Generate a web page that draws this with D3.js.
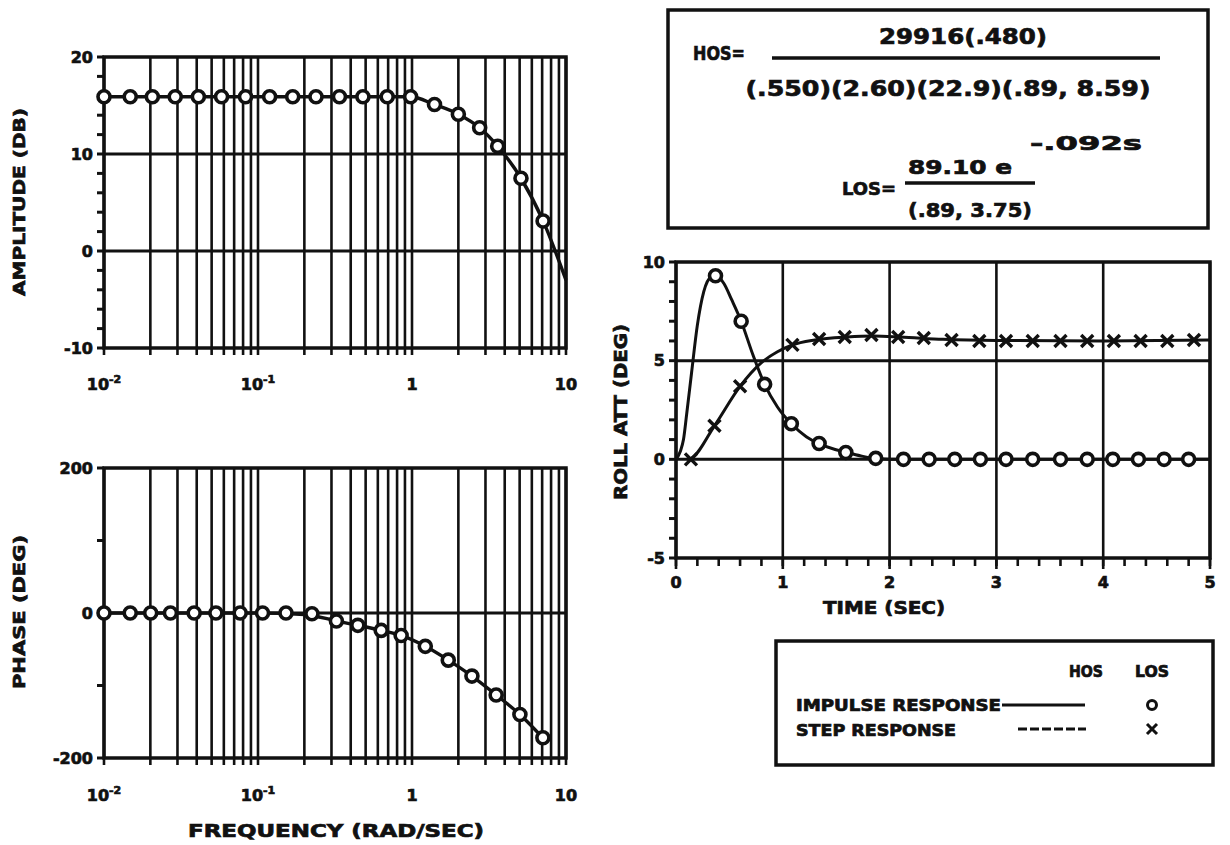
<!DOCTYPE html>
<html><head><meta charset="utf-8">
<script src="https://cdn.jsdelivr.net/npm/d3@7"></script>
<style>
body{margin:0;background:#fff;}
text{font-family:"DejaVu Sans",sans-serif;font-weight:bold;fill:#111;stroke:#111;stroke-width:0.7px;}
</style></head><body>
<svg id="c" width="1230" height="845"></svg>
<script>
// ---------- DATA ----------
// Bode amplitude (dB), LOS points (circles) and HOS line
const ampFreq = [0.01,0.0148,0.0206,0.029,0.041,0.058,0.083,0.119,0.168,0.238,0.338,0.48,0.69,0.98,1.4,2.0,2.75,3.6,5.1,7.1];
const ampLOS  = [15.9,15.9,15.9,15.9,15.9,15.9,15.9,15.9,15.9,15.9,15.9,15.9,15.9,15.9,15.1,14.1,12.7,10.8,7.5,3.1];
const ampHosFreq = [0.01,0.1,0.5,0.98,1.4,2.0,2.75,3.6,5.1,7.1,10];
const ampHos     = [15.9,15.9,15.9,15.9,15.1,14.1,12.7,10.8,7.5,3.1,-3.0];
// Bode phase (deg)
const phFreq = [0.01,0.0148,0.0201,0.027,0.0385,0.0533,0.0766,0.107,0.152,0.224,0.323,0.445,0.631,0.85,1.22,1.72,2.45,3.52,5.02,7.08];
const phLOS  = [0,0,0,0,0,0,0,0,0,-1,-11,-17,-24,-31,-46,-65,-87,-113,-140,-172];
const phHosFreq = [0.01,0.1,0.2,0.323,0.445,0.631,0.85,1.22,1.72,2.45,3.52,5.02,7.2];
const phHos     = [0,0,-2,-11,-17,-24,-31,-46,-65,-87,-113,-140,-174];
// Time responses (deg)
const impT   = [0.37,0.61,0.83,1.08,1.34,1.59,1.87,2.13,2.37,2.61,2.85,3.09,3.34,3.6,3.85,4.09,4.33,4.57,4.8];
const impLOS = [9.3,7.0,3.8,1.8,0.8,0.35,0.05,0,0,0,0,0,0,0,0,0,0,0,0];
const impHosT = [0,0.04,0.07,0.1,0.146,0.2,0.26,0.33,0.37,0.45,0.52,0.61,0.72,0.83,0.95,1.08,1.22,1.34,1.49,1.59,1.75,1.9,2.1,5.0];
const impHos  = [0,0.4,1.0,2.3,4.4,6.8,8.5,9.25,9.3,8.9,8.1,7.0,5.3,3.8,2.65,1.8,1.15,0.8,0.5,0.37,0.15,0.03,0,0];
const stepT   = [0.14,0.36,0.6,1.09,1.34,1.58,1.83,2.08,2.32,2.58,2.84,3.09,3.34,3.6,3.85,4.1,4.35,4.6,4.85];
const stepLOS = [0,1.7,3.7,5.8,6.1,6.2,6.3,6.2,6.15,6.05,6.0,6.0,6.0,6.0,6.0,6.0,6.0,6.0,6.05];
const stepHosT = [0.1,0.14,0.36,0.6,0.8,0.95,1.09,1.3,1.6,1.85,2.1,2.5,3.0,4.0,5.0];
const stepHos  = [0,0.05,1.7,3.7,4.9,5.45,5.8,6.05,6.2,6.25,6.2,6.08,6.02,6.0,6.05];
// Tick labels
const freqTickVals = [0.01,0.1,1,10];
const freqTickBase = ['10','10','1','10'];
const freqTickExp  = ['-2','-1','',''];
const ampTickVals = [20,10,0,-10];
const phTickVals = [200,0,-200];
const timeYTickVals = [10,5,0,-5];
const timeXTickVals = [0,1,2,3,4,5];

// ---------- DRAW ----------
const ink = '#111';
const svg = d3.select('#c');
svg.append('rect').attr('width',1230).attr('height',845).attr('fill','#fff');

const xF = d3.scaleLog().domain([0.01,10]).range([104,566]);
const yA = d3.scaleLinear().domain([-10,20]).range([348,57]);
const yP = d3.scaleLinear().domain([-200,200]).range([758,468]);
const xT = d3.scaleLinear().domain([0,5]).range([676,1210]);
const yT = d3.scaleLinear().domain([-5,10]).range([558,262]);

function hline(g,x1,x2,y,w){g.append('line').attr('x1',x1).attr('x2',x2).attr('y1',y).attr('y2',y).attr('stroke',ink).attr('stroke-width',w);}
function vline(g,x,y1,y2,w){g.append('line').attr('x1',x).attr('x2',x).attr('y1',y1).attr('y2',y2).attr('stroke',ink).attr('stroke-width',w);}

function logPanel(y, gridVals, minorStep, tickVals, labelY){
  const g = svg.append('g');
  const top = y.range()[1], bot = y.range()[0];
  const [x0,x1] = xF.range();
  xF.ticks().forEach(f => vline(g, xF(f), top, bot+7, 2.6));
  gridVals.forEach(v => hline(g, x0, x1, y(v), 3));
  g.append('rect').attr('x',x0).attr('y',top).attr('width',x1-x0).attr('height',bot-top)
    .attr('fill','none').attr('stroke',ink).attr('stroke-width',3.5);
  const [d0,d1] = y.domain();
  d3.range(d0, d1+1e-9, minorStep).forEach(v => hline(g, x0-7, x0, y(v), 3));
  tickVals.forEach(v => g.append('text').attr('x',x0-11).attr('y',y(v)).attr('dy','0.36em')
     .attr('text-anchor','end').attr('font-size',16).text(v<0?'-'+Math.abs(v):v));
  freqTickVals.forEach((f,i) => {
    const t = g.append('text').attr('x',xF(f)).attr('y',labelY).attr('text-anchor','middle').attr('font-size',16);
    t.append('tspan').text(freqTickBase[i]);
    if (freqTickExp[i]) t.append('tspan').attr('dy',-7).attr('font-size',11).text(freqTickExp[i]);
  });
  return g;
}

function circles(g, xs, ys, xsc, ysc){
  g.selectAll(null).data(xs).enter().append('circle')
   .attr('cx',(d)=>xsc(d)).attr('cy',(d,i)=>ysc(ys[i])).attr('r',6)
   .attr('fill','#fff').attr('stroke',ink).attr('stroke-width',3.6);
}
function curve(g, xs, ys, xsc, ysc, w){
  const pts = xs.map((d,i)=>[xsc(d), ysc(ys[i])]);
  g.append('path').attr('d', d3.line().curve(d3.curveMonotoneX)(pts))
   .attr('fill','none').attr('stroke',ink).attr('stroke-width',w);
}

// Amplitude
const gA = logPanel(yA, [10,0], 2, ampTickVals, 390);
curve(gA, ampHosFreq, ampHos, xF, yA, 3.4);
circles(gA, ampFreq, ampLOS, xF, yA);
gA.append('text').attr('transform','translate(25,202) rotate(-90)').attr('text-anchor','middle')
  .attr('font-size',16).attr('textLength',188).attr('lengthAdjust','spacingAndGlyphs').text('AMPLITUDE (DB)');

// Phase
const gP = logPanel(yP, [0], 100, phTickVals, 801);
curve(gP, phHosFreq, phHos, xF, yP, 3.4);
circles(gP, phFreq, phLOS, xF, yP);
gP.append('text').attr('transform','translate(25,612) rotate(-90)').attr('text-anchor','middle')
  .attr('font-size',16).attr('textLength',154).attr('lengthAdjust','spacingAndGlyphs').text('PHASE (DEG)');
gP.append('text').attr('x',336).attr('y',837).attr('text-anchor','middle')
  .attr('font-size',17).attr('textLength',296).attr('lengthAdjust','spacingAndGlyphs').text('FREQUENCY (RAD/SEC)');

// Time panel
const gT = svg.append('g');
{
  const [x0,x1] = xT.range(); const top = yT.range()[1], bot = yT.range()[0];
  timeXTickVals.forEach(t => vline(gT, xT(t), top, bot+11, 2.6));
  d3.range(0,5.0001,0.2).forEach(t => vline(gT, xT(t), bot, bot+8, 2.6));
  [5,0].forEach(v => hline(gT, x0, x1, yT(v), 3));
  gT.append('rect').attr('x',x0).attr('y',top).attr('width',x1-x0).attr('height',bot-top)
    .attr('fill','none').attr('stroke',ink).attr('stroke-width',3.5);
  d3.range(-5,10.0001,1).forEach(v => hline(gT, x0-7, x0, yT(v), 3));
  timeYTickVals.forEach(v => gT.append('text').attr('x',x0-11).attr('y',yT(v)).attr('dy','0.36em')
     .attr('text-anchor','end').attr('font-size',16).text(v<0?'-'+Math.abs(v):v));
  timeXTickVals.forEach(t => gT.append('text').attr('x',xT(t)).attr('y',588).attr('text-anchor','middle')
     .attr('font-size',16).text(t));
  curve(gT, impHosT, impHos, xT, yT, 3);
  curve(gT, stepHosT, stepHos, xT, yT, 3);
  circles(gT, impT, impLOS, xT, yT);
  const s = 6;
  gT.selectAll(null).data(stepT).enter().append('path')
    .attr('d',(d,i)=>{const cx=xT(d), cy=yT(stepLOS[i]); return `M${cx-s},${cy-s}L${cx+s},${cy+s}M${cx+s},${cy-s}L${cx-s},${cy+s}`;})
    .attr('stroke',ink).attr('stroke-width',3.4).attr('fill','none');
  gT.append('text').attr('transform','translate(627,412) rotate(-90)').attr('text-anchor','middle')
    .attr('font-size',17).attr('textLength',176).attr('lengthAdjust','spacingAndGlyphs').text('ROLL ATT (DEG)');
  gT.append('text').attr('x',884).attr('y',614).attr('text-anchor','middle')
    .attr('font-size',17).attr('textLength',122).attr('lengthAdjust','spacingAndGlyphs').text('TIME (SEC)');
}

// Transfer function box
const gB = svg.append('g');
gB.append('rect').attr('x',668).attr('y',10).attr('width',540).attr('height',218)
  .attr('fill','none').attr('stroke',ink).attr('stroke-width',3.5);
function txt(g,x,y,s,size,len,anchor){
  const t = g.append('text').attr('x',x).attr('y',y).attr('font-size',size).attr('text-anchor',anchor||'start').text(s);
  if(len) t.attr('textLength',len).attr('lengthAdjust','spacingAndGlyphs');
  return t;
}
txt(gB,693,60,'HOS=',19,52);
txt(gB,963,44,'29916(.480)',21,168,'middle');
hline(gB,772,1160,58,3.5);
txt(gB,948,96,'(.550)(2.60)(22.9)(.89, 8.59)',21,405,'middle');
txt(gB,1030,150,'-.092s',20,112);
txt(gB,960,174,'89.10 e',20,104,'middle');
hline(gB,905,1035,183,3.5);
txt(gB,842,195,'LOS=',18,54);
txt(gB,970,217,'(.89, 3.75)',20,124,'middle');

// Legend box
const gL = svg.append('g');
gL.append('rect').attr('x',776).attr('y',641).attr('width',437).attr('height',124)
  .attr('fill','none').attr('stroke',ink).attr('stroke-width',3.5);
txt(gL,1086,677,'HOS',15,34,'middle');
txt(gL,1152,677,'LOS',15,34,'middle');
txt(gL,796,711,'IMPULSE  RESPONSE',15,205);
txt(gL,796,736,'STEP  RESPONSE',15,160);
hline(gL,1002,1085,705,3.2);
gL.append('line').attr('x1',1018).attr('x2',1086).attr('y1',729).attr('y2',729)
  .attr('stroke',ink).attr('stroke-width',3.2).attr('stroke-dasharray','9,3');
gL.append('circle').attr('cx',1152).attr('cy',705).attr('r',4.5).attr('fill','none').attr('stroke',ink).attr('stroke-width',3);
gL.append('path').attr('d','M1147,724L1157,734M1157,724L1147,734').attr('stroke',ink).attr('stroke-width',3);
</script>
</body></html>
